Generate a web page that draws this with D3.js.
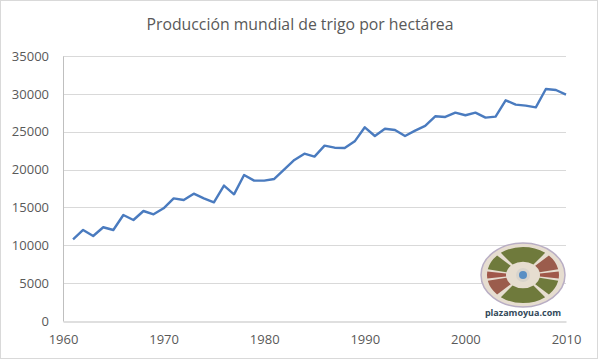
<!DOCTYPE html>
<html>
<head>
<meta charset="utf-8">
<script src="https://cdn.jsdelivr.net/npm/d3@7"></script>
<style>
  body { margin: 0; background: #fff; }
  text { font-family: "Open Sans", sans-serif; }
</style>
</head>
<body>
<div id="app"></div>
<script>
const years = d3.range(1961, 2011);
const yields = [
  10790, 12020, 11230, 12380, 12020, 14000, 13340, 14530, 14090, 14880,
  16200, 15980, 16820, 16200, 15680, 17880, 16730, 19280, 18540, 18540,
  18760, 20030, 21270, 22100, 21710, 23160, 22890, 22850, 23730, 25580,
  24430, 25400, 25230, 24430, 25140, 25760, 27040, 26950, 27520, 27170,
  27520, 26860, 26990, 29150, 28580, 28440, 28220, 30640, 30510, 29890
];
const xTicks = [1960, 1970, 1980, 1990, 2000, 2010];
const yTicks = [0, 5000, 10000, 15000, 20000, 25000, 30000, 35000];
const title = "Producción mundial de trigo por hectárea";

const width = 600, height = 361;
const margin = { top: 56, right: 34, bottom: 40, left: 63 };

const svg = d3.select("#app").append("svg")
  .attr("width", width)
  .attr("height", height);

// chart border
svg.append("rect")
  .attr("x", 0.5).attr("y", 0.5)
  .attr("width", width - 3).attr("height", height - 3)
  .attr("fill", "#fff")
  .attr("stroke", "#d9d9d9");

const x = d3.scaleLinear().domain([1960, 2010]).range([margin.left, width - margin.right]);
const y = d3.scaleLinear().domain([0, 35000]).range([height - margin.bottom, margin.top]);

//gridlines
svg.append("g")
  .selectAll("line")
  .data(yTicks.slice(1))
  .enter()
  .append("line")
  .attr("x1", x(1960)).attr("x2", x(2010))
  .attr("y1", (d) => Math.round(y(d)) + 0.5)
  .attr("y2", (d) => Math.round(y(d)) + 0.5)
  .attr("stroke", "#d9d9d9");

//y axis
const yAxis = svg.append("g")
  .attr("transform", `translate(${x(1960)},0)`)
  .call(d3.axisLeft(y).tickValues(yTicks).tickSize(0).tickPadding(14).tickFormat(d3.format("d")));
yAxis.select(".domain").attr("stroke", "#bfbfbf");
yAxis.selectAll("text").attr("font-size", 13).attr("fill", "#595959")
  .attr("font-family", "Open Sans, sans-serif");

//x axis
const xAxis = svg.append("g")
  .attr("transform", `translate(0,${Math.round(y(0)) + 0.5})`)
  .call(d3.axisBottom(x).tickValues(xTicks).tickSize(0).tickPadding(13).tickFormat(d3.format("d")));
xAxis.select(".domain").attr("stroke", "#bfbfbf");
xAxis.selectAll("text").attr("font-size", 13).attr("fill", "#595959")
  .attr("font-family", "Open Sans, sans-serif");

//line
const line = d3.line()
  .x((d, i) => x(years[i]))
  .y((d) => y(d));

svg.append("path")
  .datum(yields)
  .attr("fill", "none")
  .attr("stroke", "#4a7bbf")
  .attr("stroke-width", 2.4)
  .attr("stroke-linejoin", "round")
  .attr("d", line);

//title
svg.append("text")
  .attr("x", 300)
  .attr("y", 30)
  .attr("text-anchor", "middle")
  .attr("font-size", 15.8)
  .attr("fill", "#595959")
  .text(title);

//logo
const logo = svg.append("g").attr("transform", "translate(523,275)");
logo.append("ellipse")
  .attr("rx", 42).attr("ry", 32)
  .attr("fill", "#e6ddd0")
  .attr("stroke", "#b9aec4")
  .attr("stroke-width", 1.5);
const segs = [
  { a0: -38, a1: 38, c: "#6f7a3c" },
  { a0: 46, a1: 78, c: "#9b5c4c" },
  { a0: 83, a1: 97, c: "#a0584a" },
  { a0: 102, a1: 134, c: "#6f7a3c" },
  { a0: 142, a1: 218, c: "#6f7a3c" },
  { a0: 226, a1: 258, c: "#9b5c4c" },
  { a0: 263, a1: 277, c: "#a0584a" },
  { a0: 282, a1: 314, c: "#6f7a3c" }
];
const arc = d3.arc().innerRadius(17).outerRadius(36);
logo.append("g")
  .attr("transform", "scale(1,0.78)")
  .selectAll("path")
  .data(segs)
  .enter()
  .append("path")
  .attr("d", (d) => arc({ startAngle: d.a0 * Math.PI / 180, endAngle: d.a1 * Math.PI / 180 }))
  .attr("fill", (d) => d.c);
logo.append("circle").attr("r", 7).attr("fill", "#d9d4cc");
logo.append("circle").attr("r", 4).attr("fill", "#5a8fc4");

svg.append("text")
  .attr("x", 523)
  .attr("y", 316)
  .attr("text-anchor", "middle")
  .attr("font-size", 9)
  .attr("font-weight", "bold")
  .attr("fill", "#33495a")
  .attr("font-family", "DejaVu Sans, sans-serif")
  .text("plazamoyua.com");
</script>
</body>
</html>
